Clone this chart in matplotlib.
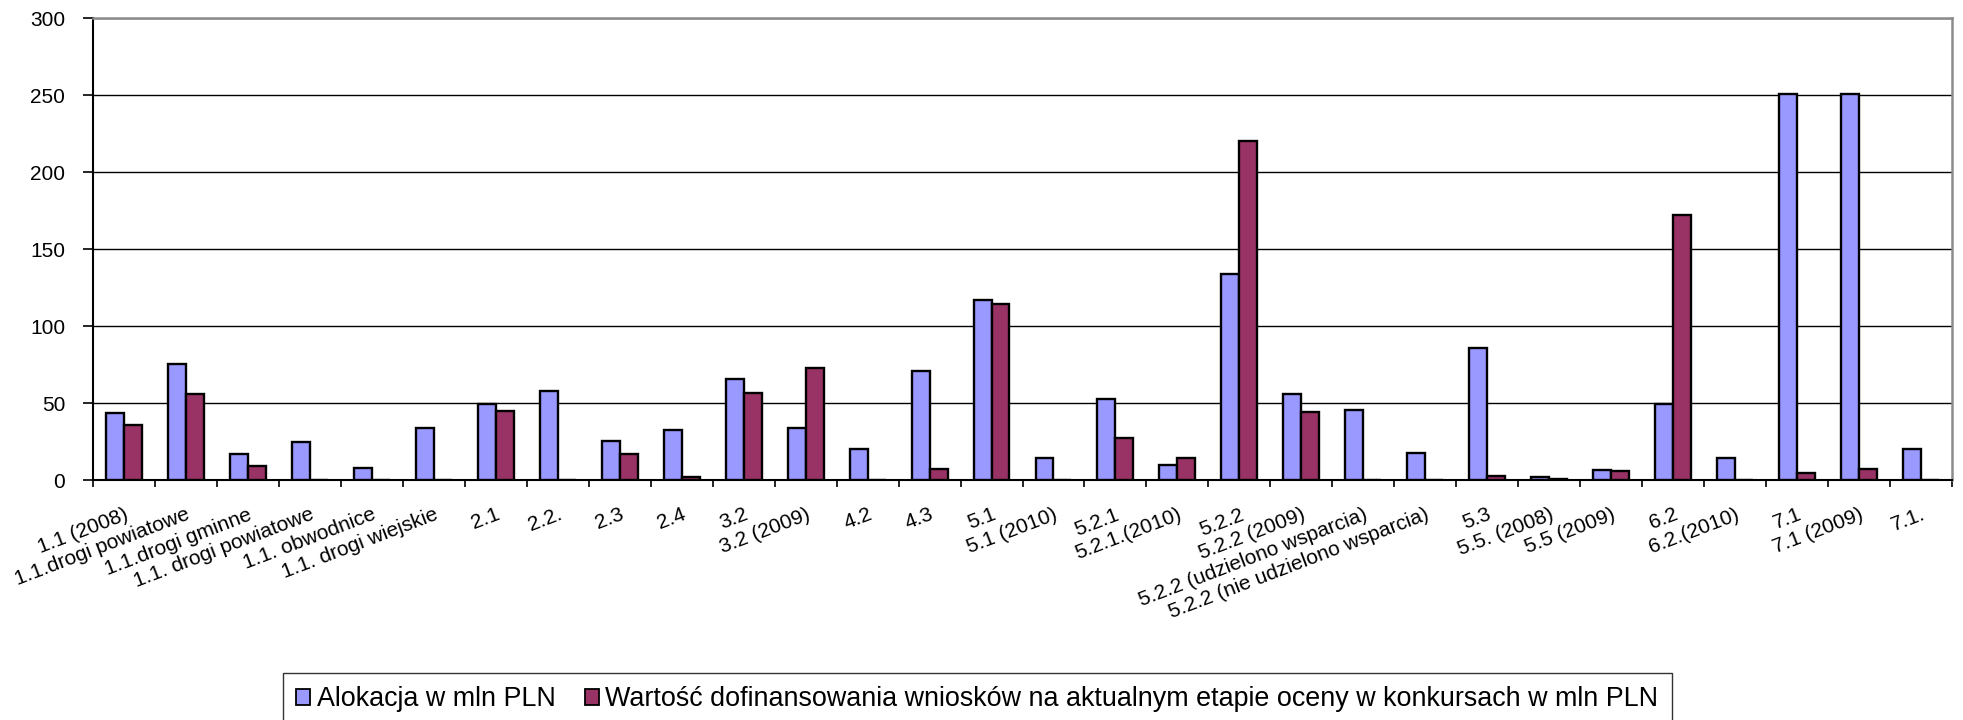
import matplotlib
matplotlib.use("Agg")
import matplotlib.pyplot as plt
import numpy as np

categories = [
    "1.1 (2008)", "1.1.drogi powiatowe", "1.1.drogi gminne", "1.1. drogi powiatowe",
    "1.1. obwodnice", "1.1. drogi wiejskie", "2.1", "2.2.", "2.3", "2.4",
    "3.2", "3.2 (2009)", "4.2", "4.3", "5.1", "5.1 (2010)", "5.2.1", "5.2.1.(2010)",
    "5.2.2", "5.2.2 (2009)", "5.2.2 (udzielono wsparcia)", "5.2.2 (nie udzielono wsparcia)",
    "5.3", "5.5. (2008)", "5.5 (2009)", "6.2", "6.2.(2010)", "7.1", "7.1 (2009)", "7.1.",
]
alokacja = [43.7, 75.3, 17.1, 24.5, 8.0, 33.8, 49.1, 58.0, 25.3, 32.7,
            65.9, 33.5, 20.0, 70.9, 117.0, 14.3, 52.6, 10.0, 133.7, 56.1,
            45.5, 17.7, 85.8, 1.7, 6.8, 49.3, 14.2, 251.0, 251.0, 20.0]
wartosc = [35.5, 56.0, 8.9, 0, 0, 0, 44.6, 0, 17.1, 1.7,
           56.7, 72.6, 0, 7.0, 114.3, 0, 27.6, 14.3, 220.5, 44.3,
           0, 0, 2.4, 0.9, 5.9, 172.0, 0, 4.4, 7.4, 0]
series_names = ["Alokacja w mln PLN",
                "Wartość dofinansowania wniosków na aktualnym etapie oceny w konkursach w mln PLN"]
yticks = [0, 50, 100, 150, 200, 250, 300]

plt.rcParams['font.family'] = ['Liberation Sans', 'DejaVu Sans']

W, H = 1963, 720
fig = plt.figure(figsize=(W / 100, H / 100), dpi=100)
ax = fig.add_axes([93 / W, 1 - 480 / H, (1952 - 93) / W, (480 - 18.5) / H])

x = np.arange(len(categories))
bw = 0.29
ax.bar(x - bw / 2, alokacja, bw, color="#9999FF", edgecolor="black", linewidth=1.7,
       label=series_names[0], zorder=3)
ax.bar(x + bw / 2, wartosc, bw, color="#993366", edgecolor="black", linewidth=1.7,
       label=series_names[1], zorder=3)

ax.set_xlim(-0.5, len(categories) - 0.5)
ax.set_ylim(0, 300)
ax.set_yticks(yticks)
ax.set_yticklabels([str(v) for v in yticks])
ax.yaxis.grid(True, color="black", linewidth=1.0, zorder=0)
ax.set_axisbelow(True)

# major ticks at group boundaries, labels at centres
ax.set_xticks(np.arange(len(categories) + 1) - 0.5)
ax.set_xticklabels([])
ax.set_xticks(x, minor=True)
ax.set_xticklabels(categories, minor=True, rotation=21, ha="right",
                   rotation_mode="anchor", fontsize=15, color="black")
ax.tick_params(axis="x", which="major", direction="out", length=5, width=1.2, color="black")
ax.tick_params(axis="x", which="minor", length=0, pad=18)
ax.tick_params(axis="y", direction="out", length=7, width=1.2, labelsize=15,
               pad=13, labelcolor="black")

for s in ["left", "bottom"]:
    ax.spines[s].set_color("black")
    ax.spines[s].set_linewidth(1.5)
for s in ["top", "right"]:
    ax.spines[s].set_color("#8c8c8c")
    ax.spines[s].set_linewidth(1.8)

leg = fig.legend(loc="upper left", bbox_to_anchor=(283 / W, 1 - 673 / H), ncol=2,
                 fontsize=19.4, frameon=True, fancybox=False, handlelength=0.5,
                 handleheight=0.5, handletextpad=0.25, columnspacing=1.1,
                 borderpad=0.5, borderaxespad=0)
leg.get_frame().set_edgecolor("black")
leg.get_frame().set_linewidth(1.0)
for h in leg.legend_handles:
    h.set_linewidth(1.3)

fig.savefig("out.png", dpi=100, facecolor="white")
